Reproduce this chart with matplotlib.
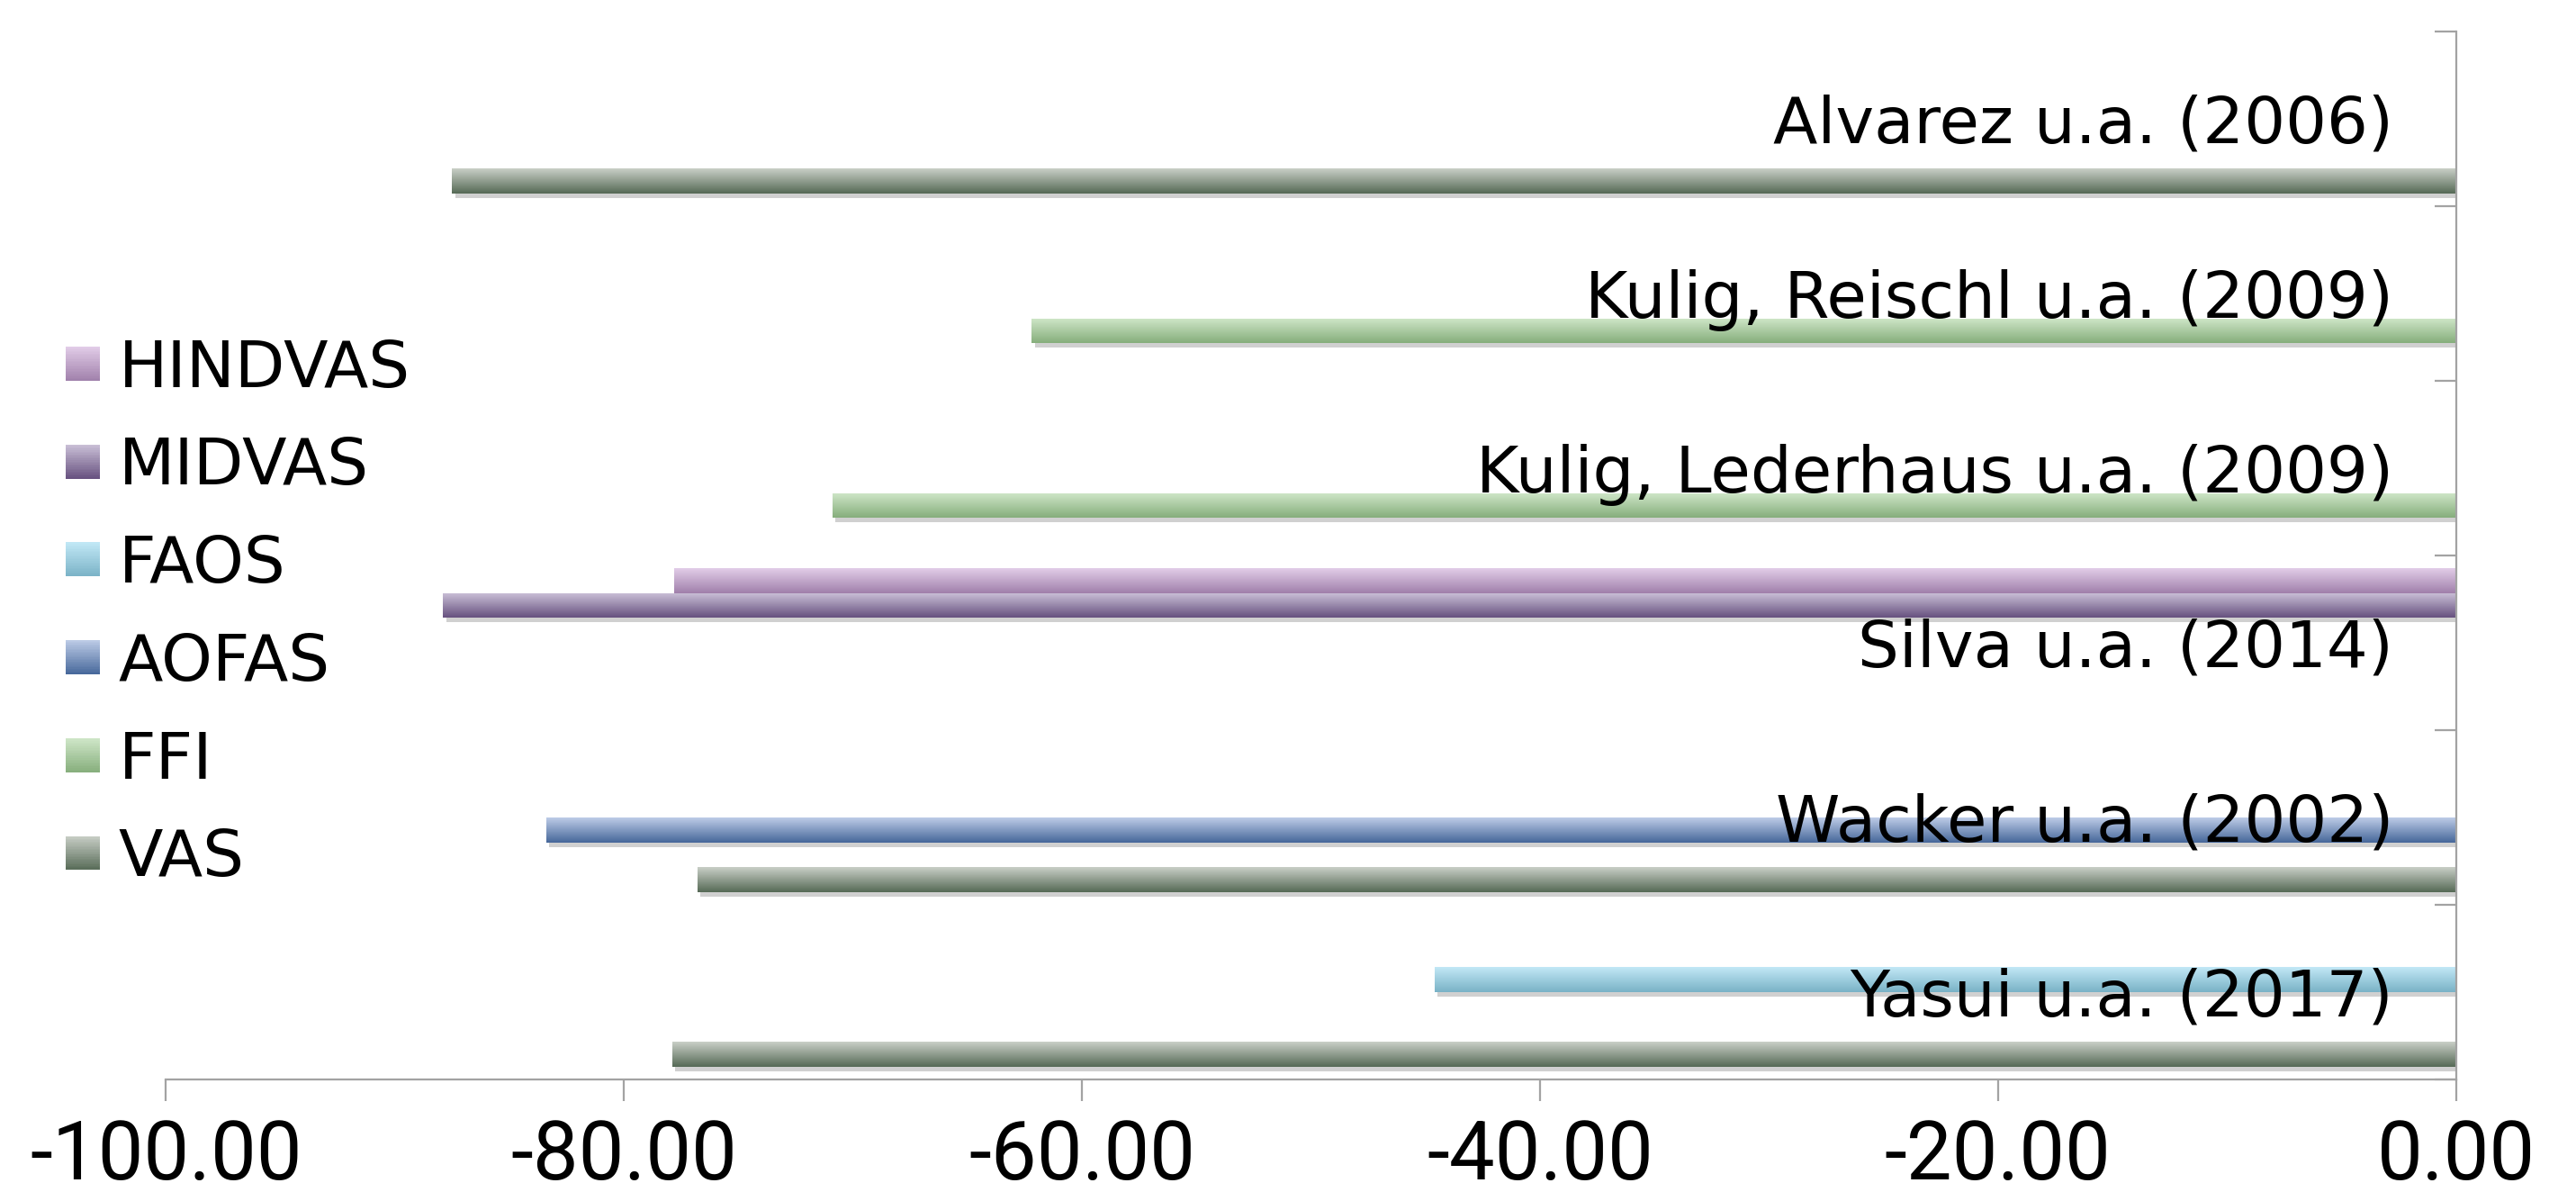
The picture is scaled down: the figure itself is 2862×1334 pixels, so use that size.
import numpy as np
import matplotlib
matplotlib.use("Agg")
import matplotlib.pyplot as plt
import matplotlib.patheffects as pe
from matplotlib.colors import to_rgb
from matplotlib.legend_handler import HandlerBase
from matplotlib.patches import Rectangle, Patch
from matplotlib.ticker import FixedLocator, NullFormatter

nan = np.nan

# Studies, listed bottom to top
categories = [
    "Yasui u.a. (2017)",
    "Wacker u.a. (2002)",
    "Silva u.a. (2014)",
    "Kulig, Lederhaus u.a. (2009)",
    "Kulig, Reischl u.a. (2009)",
    "Alvarez u.a. (2006)",
]

series_names = ["VAS", "FFI", "AOFAS", "FAOS", "MIDVAS", "HINDVAS"]

vas = [-77.9, -76.8, nan, nan, nan, -87.5]
ffi = [nan, nan, nan, -70.9, -62.2, nan]
aofas = [nan, -83.4, nan, nan, nan, nan]
faos = [-44.6, nan, nan, nan, nan, nan]
midvas = [nan, nan, -87.9, nan, nan, nan]
hindvas = [nan, nan, -77.8, nan, nan, nan]

series_values = [vas, ffi, aofas, faos, midvas, hindvas]

x_ticks = [-100, -80, -60, -40, -20, 0]
x_tick_labels = [f"{abs(v):.2f}" if v == 0 else f"{v:.2f}" for v in x_ticks]

# (top, bottom) gradient colours per series
gradients = {
    "VAS": ("#c9cfc7", "#566a56"),
    "FFI": ("#d0e7c9", "#86ae7c"),
    "AOFAS": ("#bdcce7", "#46679a"),
    "FAOS": ("#c2e8f6", "#79b2c6"),
    "MIDVAS": ("#cbc1d8", "#67517f"),
    "HINDVAS": ("#e2cde8", "#a080ab"),
}

AXIS_GREY = "#a3a3a3"


def gradient_array(top, bottom, n=64):
    t = np.linspace(0, 1, n)[:, None]
    b = np.array(to_rgb(bottom))
    tp = np.array(to_rgb(top))
    return (b + (tp - b) * t)[:, None, :]


class GradientHandler(HandlerBase):
    def __init__(self, top, bottom, steps=24):
        super().__init__()
        self.top = np.array(to_rgb(top))
        self.bottom = np.array(to_rgb(bottom))
        self.steps = steps

    def create_artists(self, legend, orig_handle, xdescent, ydescent,
                       width, height, fontsize, trans):
        artists = []
        for k in range(self.steps):
            frac = (k + 0.5) / self.steps
            col = self.bottom + (self.top - self.bottom) * frac
            y = -ydescent + height * k / self.steps
            artists.append(Rectangle((-xdescent, y), width,
                                     height / self.steps * 1.05,
                                     facecolor=col, linewidth=0,
                                     transform=trans))
        return artists


fig = plt.figure(figsize=(28.62, 13.34), dpi=100)
W, H = 2862, 1334
ax = fig.add_axes([184.3 / W, 135 / H, (2728.6 - 184.3) / W, (1299 - 135) / H])

n_series = len(series_names)
slot = 1.0 / (n_series + 1)
base = np.arange(len(categories))

for i, (name, vals) in enumerate(zip(series_names, series_values)):
    top, bottom = gradients[name]
    ypos = base - 0.5 + (i + 1) * slot
    bars = ax.barh(ypos, vals, height=slot, color=bottom, linewidth=0, zorder=2)
    grad = gradient_array(top, bottom)
    for rect, v in zip(bars, vals):
        if np.isnan(v):
            rect.set_visible(False)
            continue
        rect.set_path_effects([
            pe.SimplePatchShadow(offset=(2.5, -3.5), shadow_rgbFace="#7a7a7a", alpha=0.35),
            pe.Normal(),
        ])
        x0, w = rect.get_x(), rect.get_width()
        y0, h = rect.get_y(), rect.get_height()
        im = ax.imshow(grad, extent=(min(x0, x0 + w), max(x0, x0 + w), y0, y0 + h),
                       origin="lower", aspect="auto", interpolation="bilinear",
                       zorder=2.1)
        im.set_clip_path(rect)

ax.set_xlim(-100, 0)
ax.set_ylim(-0.5, len(categories) - 0.5)
ax.set_axisbelow(False)

for side in ("top", "right"):
    ax.spines[side].set_visible(False)
ax.spines["left"].set_position(("data", 0))
for side in ("left", "bottom"):
    ax.spines[side].set_color(AXIS_GREY)
    ax.spines[side].set_linewidth(1.6)
    ax.spines[side].set_zorder(3)

# value axis
ax.set_xticks(x_ticks)
ax.set_xticklabels(x_tick_labels, fontsize=65, fontfamily=["Roboto", "DejaVu Sans"])
ax.tick_params(axis="x", direction="out", length=17, width=1.6,
               color=AXIS_GREY, pad=14)

# category axis: tick marks between categories, labels at the centres
ax.yaxis.set_major_locator(FixedLocator(np.arange(-0.5, len(categories), 1.0)))
ax.yaxis.set_major_formatter(NullFormatter())
ax.set_yticks(base, minor=True)
ax.set_yticklabels(categories, minor=True, fontsize=52)
ax.tick_params(axis="y", which="major", direction="out", length=17, width=1.6,
               color=AXIS_GREY)
ax.tick_params(axis="y", which="minor", length=0, pad=50)

# legend, top entry is the last series
handles, hmap = [], {}
for name in reversed(series_names):
    proxy = Patch(label=name)
    handles.append(proxy)
    hmap[proxy] = GradientHandler(*gradients[name])

fig.legend(handles=handles, handler_map=hmap, loc="center left",
           bbox_to_anchor=(73 / W, 652 / H), frameon=False, fontsize=52,
           handlelength=0.53, handleheight=0.43, handletextpad=0.28,
           labelspacing=0.55, borderpad=0, borderaxespad=0)

fig.savefig("out.png", dpi=100)
